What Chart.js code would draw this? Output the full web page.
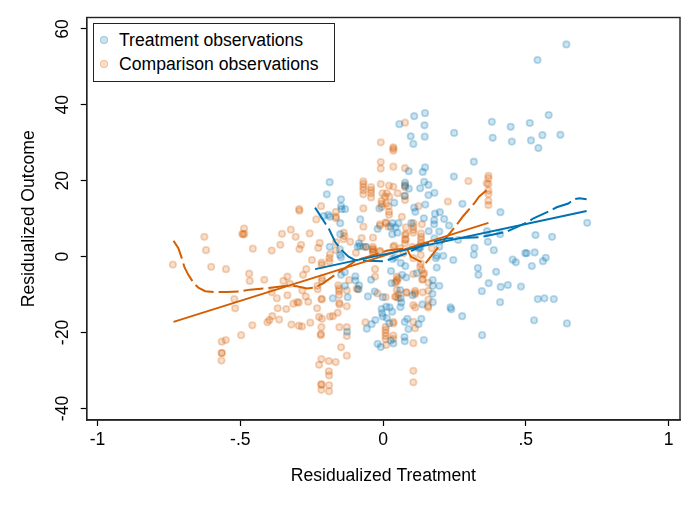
<!DOCTYPE html>
<html>
<head>
<meta charset="utf-8">
<script src="https://cdn.jsdelivr.net/npm/chart.js@4/dist/chart.umd.min.js"></script>
<style>
    html, body { margin: 0; padding: 0; background: #fff; }
    #wrap { position: relative; width: 698px; height: 507px; font-family: "Liberation Sans", Arial, sans-serif; color: #000; }
    #legend { position: absolute; left: 93px; top: 23px; width: 240px; height: 57px; border: 1.4px solid #222; background: #fff; box-sizing: content-box; }
    .item { position: absolute; left: 0; height: 24px; line-height: 24px; font-size: 17.6px; white-space: nowrap; }
    .swatch { position: absolute; left: 6px; top: 8px; width: 6px; height: 6px; border-radius: 50%; border-width: 1.8px; border-style: solid; }
    .item span.t { position: absolute; left: 25px; top: 0; }
</style>
</head>
<body>
<div id="wrap">
    <canvas id="chart" width="698" height="507"></canvas>
    <div id="legend"></div>
</div>
<script>
    var xTicks = [-1, -0.5, 0, 0.5, 1];
    var xTickLabels = ['-1', '-.5', '0', '.5', '1'];
    var yTicks = [-40, -20, 0, 20, 40, 60];

    var treatmentObs = [
        [.642,55.9],[.541,51.8],[.147,37.8],[.109,37.0],[.057,34.9],[.145,34.6],[.097,31.7],[.146,31.6],[.106,29.7],[.249,32.6],
        [.381,35.5],[.384,31.3],[.447,34.2],[.451,30.3],[.514,35.2],[.518,30.6],[.544,28.6],[.558,32.0],[.580,37.3],[.621,32.1],
        [.318,25.0],[.248,21.1],[.147,23.5],[.139,22.3],[.090,22.5],[.144,19.7],[.159,18.9],[.077,19.5],[.077,18.6],[.090,17.9],
        [.130,18.0],[.159,16.2],[.180,16.8],[.075,16.0],[.039,14.2],[.148,13.7],[.109,12.9],[.113,11.8],[.182,11.3],[.199,11.7],
        [.278,13.9],[.411,11.7],[.143,10.1],[.214,9.9],[.179,9.6],[.715,8.9],[.534,5.7],[.592,5.2],[.410,5.9],[.367,3.9],
        [.364,6.7],[.320,2.3],[.318,.5],[.388,1.7],[.263,4.4],[.246,-.9],[.211,.2],[.197,2.6],[.197,6.6],[.231,8.2],
        [.160,6.7],[.179,8.5],[.180,4.8],[.099,8.8],[.054,8.8],[.033,8.8],[.032,5.9],[.050,6.3],[.044,7.7],[.027,7.9],
        [.188,.2],[.185,-.4],[.188,-2.9],[.174,-6.2],[.174,-7.7],[.197,-7.7],[.173,-9.8],[.174,-12.0],[.332,-3.0],[.334,-4.8],
        [.396,-4.0],[.370,-7.0],[.346,-9.1],[.412,-8.0],[.437,-7.5],[.483,-7.9],[.410,-12.0],[.454,-.8],[.465,-1.5],[.498,.9],
        [.503,.9],[.531,1.1],[.521,-2.5],[.560,-1.2],[.570,-.3],[.542,-11.2],[.565,-11.0],[.598,-11.2],[.529,-16.8],[.644,-17.6],
        [.347,-20.7],[.277,-15.7],[.236,-13.4],[.239,-13.9],[.134,-16.4],[.124,-17.8],[.085,-16.4],[.076,-17.2],[.089,-19.1],[.143,-22.0],
        [.075,-21.2],[.076,-22.3],[.138,-12.6],[.118,-4.4],[.067,-4.8],[.081,-5.5],[.028,-3.8],[.062,-1.7],[.078,-2.5],[.034,-.6],
        [.042,-.2],[.030,-7.0],[.103,-10.2],[.062,-11.0],[.064,-12.1],[.061,-13.3],[.060,-8.8],[-.001,-10.7],[.032,-14.5],[.023,-13.4],
        [.011,-13.2],[-.005,-13.8],[-.001,-15.8],[.013,-16.2],[.022,-17.6],[.027,-22.1],[.036,-22.9],[-.147,-4.8],[-.134,-4.1],
        [-.097,-5.2],[-.097,-6.3],[-.084,-7.6],[-.086,-8.6],[-.133,-7.7],[-.176,-11.0],[-.124,-10.7],[-.126,-19.8],[-.042,-6.1],[-.053,-10.5],
        [-.029,-9.2],[-.003,-14.9],[-.027,-16.7],[-.040,-17.8],[-.057,-19.0],[-.019,-23.0],[-.008,-23.8],
        [-.187,19.6],[-.197,16.4],[-.147,15.1],[-.147,13.3],[-.145,12.5],[-.133,12.5],[-.208,10.7],[-.192,11.0],[-.186,10.5],[-.080,9.8],
        [-.150,8.8],[-.150,5.9],[-.187,2.6],[-.151,1.9],[-.151,.4],[-.147,-.2],[-.084,3.5],[-.081,2.8],[-.089,2.6],[-.019,7.3],
        [-.013,12.7],[.127,2.6],[.130,2.3],[.124,2.2],[-.060,2.6]
    ];

    var comparisonObs = [
        [-.487,7.4],[-.493,6.0],[-.486,6.0],[-.490,5.8],[-.626,5.2],[-.620,1.7],[-.736,-2.1],[-.602,-2.7],[-.550,-3.3],[-.469,-4.5],
        [-.467,-6.4],[-.416,-6.1],[-.521,-11.2],[-.518,-13.6],[-.456,2.1],[-.390,1.6],[-.360,3.1],[-.354,6.0],[-.323,7.1],[-.306,5.2],
        [-.287,3.1],[-.293,2.0],[-.257,6.1],[-.222,3.6],[-.227,2.3],[-.249,-.9],[-.269,-3.3],[-.280,-4.8],[-.335,-5.3],[-.349,-6.4],
        [-.326,-7.2],[-.390,-9.4],[-.372,-11.0],[-.335,-10.2],[-.283,-8.9],[-.271,-10.5],[-.262,-11.9],[-.229,-8.6],[-.230,-7.7],[-.314,-12.4],
        [-.301,-12.0],[-.295,-12.1],[-.369,-13.6],[-.339,-13.8],[-.231,-13.6],[-.215,-11.1],[-.215,-11.3],[-.224,-15.9],[-.214,-16.4],[-.186,-15.8],
        [-.176,-15.7],[-.159,-14.8],[-.127,-13.1],[-.153,-12.6],[-.153,-12.2],[-.154,-10.1],[-.154,-9.1],[-.154,-8.4],[-.127,-8.9],[-.157,-7.6],
        [-.405,-17.3],[-.398,-16.7],[-.388,-15.7],[-.364,-16.6],[-.458,-18.1],[-.321,-17.9],[-.295,-18.2],[-.284,-18.4],[-.255,-17.4],[-.216,-18.6],
        [-.218,-20.4],[-.218,-20.7],[-.497,-20.7],[-.551,-22.0],[-.565,-22.4],[-.565,-25.4],[-.565,-25.4],[-.566,-27.4],[-.153,-18.6],[-.127,-18.6],
        [-.127,-20.9],[-.147,-23.9],[-.127,-26.1],[-.216,-27.0],[-.224,-28.5],[-.190,-27.5],[-.166,-27.8],[-.190,-30.2],[-.189,-31.3],[-.216,-33.6],
        [-.216,-33.8],[-.216,-35.1],[-.189,-33.9],[-.189,-35.5],[-.293,12.1],[-.234,9.8],[-.165,10.5],[-.069,7.9],[-.138,6.3],[-.135,5.4],
        [-.139,4.6],[-.115,3.9],[-.075,4.9],[-.035,5.0],[-.165,3.8],[-.165,1.7],[-.186,.6],[-.188,-.4],[-.188,-1.3],[-.215,-1.6],
        [-.215,-2.2],[-.214,-5.7],[-.214,-6.4],[-.095,1.0],[-.119,-6.2],[-.028,-3.3],[-.028,-5.3],[-.020,-9.7],[-.035,1.9],[-.035,1.3],
        [-.060,2.5],[-.011,1.3],[-.062,-17.3],[.009,-18.5],[.009,-19.3],[.009,-20.1],[.009,-20.9],[.009,-21.8],[.011,-23.3],[-.089,-8.6],
        [.009,-10.7],[.036,-17.2],[.036,-17.6],[.036,-20.8],[.036,-21.7],[.106,-17.2],[.112,-18.9],[.106,-22.8],[.106,-30.1],[.106,-33.1],
        [.048,-5.3],[.048,-6.6],[.042,-10.6],[.048,-8.8],[.054,-9.9],[.083,-9.5],[.106,-12.8],[.113,-13.4],
        [.159,-9.0],[.158,-13.0],[.158,-13.4],[.077,35.3],[-.008,30.1],[.036,28.8],[.036,28.4],
        [.036,27.9],[-.008,24.9],[-.008,23.2],[.036,23.7],[.077,23.3],[-.069,19.8],[-.069,19.1],[-.069,18.3],[-.042,18.3],[-.042,17.5],
        [-.008,19.1],[.021,18.7],[.036,18.4],[.077,18.9],[.077,18.3],[-.069,17.5],[-.069,16.4],[-.042,16.7],[-.042,15.6],[-.002,16.7],
        [.013,16.7],[.051,16.7],[.007,15.8],[.022,15.8],[.077,16.0],[.077,14.9],[-.005,14.7],[-.005,13.9],[-.005,13.1],[.011,14.0],
        [.019,13.3],[.021,11.8],[.021,11.0],[-.069,12.7],[.124,13.3],[.066,10.5],[.227,14.5],[.009,9.0],[-.011,8.5],[.136,8.5],
        [.106,8.8],[.106,7.9],[.106,7.0],[.106,6.3],[.077,5.7],[.077,4.4],[.077,3.5],[.133,6.1],[.133,5.2],[.133,4.4],
        [.133,3.5],[.039,2.9],[-.036,2.6],[-.036,1.9],[-.036,1.2],[-.011,1.5],[.060,2.2],[.171,2.2],[.071,.9],[.132,-1.8],
        [.106,-.4],[.106,-4.6],[.144,-4.4],[.138,-6.0],[.138,-6.0],[.159,-6.9],[.112,-9.0],[.112,-9.5],
        [.112,-9.9],[.139,-9.4],[.081,-9.4],[.048,-6.2],[.054,-5.7],[.042,-6.9],[.046,-10.6],[-.092,-8.4],[.159,-11.3],
        [-.294,12.5],[-.217,13.3],[-.165,11.8],[-.165,10.1],[-.011,8.1],[.011,8.8],[.019,7.9],[.080,7.7],[.080,6.0],[.080,4.6],
        [-.069,2.6],[.036,2.6],[.299,19.9],[.369,21.3],[.369,20.6],[.363,19.3],[.369,19.1],[.369,17.4],[.369,16.5],[.369,14.7],
        [.369,13.6],[.103,2.6],[.132,.4],[.130,-2.7],[.136,-3.5],[.141,-4.7],[.054,-10.9]
    ];

    var treatmentFit = [[-.238,-3.3],[.713,12.0]];
    var comparisonFit = [[-.734,-17.2],[.369,8.9]];

    var treatmentSmooth = [
        [-.238,12.9],[-.189,7.2],[-.168,3.9],[-.145,1.7],[-.121,0],[-.098,-.9],[-.057,-1.1],[.004,-1.2],[.025,-.7],[.083,.9],
        [.118,2.2],[.141,3.3],[.223,4.8],[.293,5.0],[.340,5.1],[.365,5.5],[.431,6.5],[.451,7.2],[.509,9.2],[.527,10.1],
        [.591,12.3],[.608,13.0],[.649,14.0],[.669,15.1],[.688,15.4],[.713,15.1]
    ];
    var comparisonSmooth = [
        [-.734,4.2],[-.717,2.2],[-.705,-.4],[-.696,-2.7],[-.682,-4.8],[-.664,-6.9],[-.647,-8.2],[-.623,-9.1],[-.594,-9.3],[-.547,-9.3],
        [-.503,-9.2],[-.466,-8.7],[-.419,-8.4],[-.372,-8.0],[-.332,-7.6],[-.302,-7.8],[-.267,-8.4],[-.238,-8.1],[-.209,-7.0],[-.168,-4.8],
        [-.127,-2.7],[-.092,-.9],[-.034,.4],[.015,1.6],[.083,2.2],[.097,0],[.147,-1.9],[.167,0],[.229,5.7],[.264,9.0],
        [.281,10.7],[.322,14.3],[.336,15.8],[.363,17.5],[.369,18.4]
    ];

    var BLUE = '#0072B2';
    var ORANGE = '#D55E00';
    var BLUE_EDGE = 'rgba(0,114,178,0.26)';
    var BLUE_FILL = 'rgba(0,114,178,0.2)';
    var ORANGE_EDGE = 'rgba(213,94,0,0.26)';
    var ORANGE_FILL = 'rgba(213,94,0,0.2)';
    var TEXT_FONT = { family: '"Liberation Sans"', size: 17.6 };

    function toPoints(rows) {
        return rows.map(function (r) {
            return { x: r[0], y: r[1] };
        });
    }

    function scatterSet(label, rows, edge, fill, order) {
        return {
            label: label,
            data: toPoints(rows),
            showLine: false,
            pointRadius: 3.2,
            pointBorderWidth: 1.8,
            pointBorderColor: edge,
            pointBackgroundColor: fill,
            order: order,
        };
    }

    function lineSet(label, rows, color, dash) {
        return {
            label: label,
            data: toPoints(rows),
            showLine: true,
            pointRadius: 0,
            borderColor: color,
            borderWidth: 2,
            borderDash: dash || [],
            tension: 0,
            order: 1,
        };
    }

    var plotFrame = {
        id: 'plotFrame',
        afterDraw: function (chart) {
            var a = chart.chartArea;
            var ctx = chart.ctx;
            ctx.save();
            ctx.strokeStyle = '#222';
            ctx.lineWidth = 1.4;
            ctx.strokeRect(a.left, a.top, a.right - a.left, a.bottom - a.top);
            ctx.restore();
        },
    };

    function buildLegend() {
        var el = document.getElementById('legend');
        [
            ['Treatment observations', BLUE_EDGE, BLUE_FILL, 4],
            ['Comparison observations', ORANGE_EDGE, ORANGE_FILL, 28],
        ].forEach(function (row) {
            var item = document.createElement('div');
            item.className = 'item';
            item.style.top = row[3] + 'px';
            var swatch = document.createElement('span');
            swatch.className = 'swatch';
            swatch.style.borderColor = row[1];
            swatch.style.backgroundColor = row[2];
            item.appendChild(swatch);
            var text = document.createElement('span');
            text.className = 't';
            text.textContent = row[0];
            item.appendChild(text);
            el.appendChild(item);
        });
    }

    buildLegend();

    new Chart(document.getElementById('chart').getContext('2d'), {
        type: 'scatter',
        data: {
            datasets: [
                lineSet('Treatment linear', treatmentFit, BLUE),
                lineSet('Comparison linear', comparisonFit, ORANGE),
                lineSet('Treatment smooth', treatmentSmooth, BLUE, [20, 5]),
                lineSet('Comparison smooth', comparisonSmooth, ORANGE, [20, 5]),
                scatterSet('Treatment observations', treatmentObs, BLUE_EDGE, BLUE_FILL, 2),
                scatterSet('Comparison observations', comparisonObs, ORANGE_EDGE, ORANGE_FILL, 3),
            ],
        },
        plugins: [plotFrame],
        options: {
            responsive: false,
            animation: false,
            layout: { padding: { top: 17.5, right: 18, left: 0, bottom: 0 } },
            plugins: { legend: { display: false }, tooltip: { enabled: false } },
            scales: {
                x: {
                    type: 'linear',
                    min: -1.038,
                    max: 1.04,
                    afterBuildTicks: function (scale) {
                        scale.ticks = xTicks.map(function (v) {
                            return { value: v };
                        });
                    },
                    afterFit: function (scale) {
                        scale.height = 87;
                    },
                    grid: { drawOnChartArea: false, color: '#000', tickLength: 6, tickWidth: 1.2 },
                    border: { color: '#222', width: 1.4 },
                    ticks: {
                        color: '#000',
                        padding: 4,
                        maxRotation: 0,
                        font: TEXT_FONT,
                        callback: function (v) {
                            return xTickLabels[xTicks.indexOf(v)];
                        },
                    },
                    title: {
                        display: true,
                        text: 'Residualized Treatment',
                        color: '#000',
                        font: TEXT_FONT,
                        padding: { top: 0, bottom: 20 },
                    },
                },
                y: {
                    type: 'linear',
                    min: -43.05,
                    max: 63,
                    afterBuildTicks: function (scale) {
                        scale.ticks = yTicks.map(function (v) {
                            return { value: v };
                        });
                    },
                    afterFit: function (scale) {
                        scale.width = 86.7;
                    },
                    grid: { drawOnChartArea: false, color: '#000', tickLength: 6, tickWidth: 1.2 },
                    border: { color: '#222', width: 1.4 },
                    ticks: {
                        color: '#000',
                        padding: 5,
                        minRotation: 90,
                        maxRotation: 90,
                        crossAlign: 'center',
                        font: TEXT_FONT,
                    },
                    title: {
                        display: true,
                        text: 'Residualized Outcome',
                        color: '#000',
                        font: TEXT_FONT,
                        padding: { top: 19, bottom: 0 },
                    },
                },
            },
        },
    });
</script>
</body>
</html>
